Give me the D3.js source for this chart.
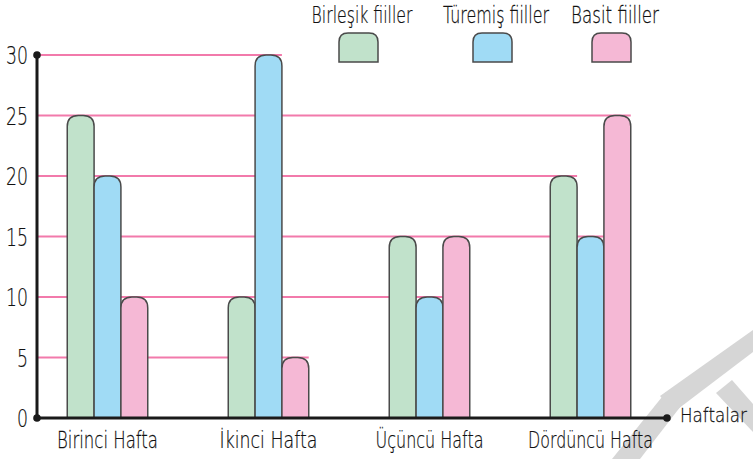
<!DOCTYPE html>
<html>
<head>
<meta charset="utf-8">
<title>Haftalara göre fiiller</title>
<script src="https://cdn.jsdelivr.net/npm/d3@7"></script>
<style>
  body { margin: 0; background: #fff; }
  svg text { font-family: "DejaVu Sans", sans-serif; font-weight: 200; fill: #111; stroke: #111; stroke-width: 0.25; }
</style>
</head>
<body>
<svg id="chart" width="753" height="459"></svg>
<script>
// data
var categories = ["Birinci Hafta", "İkinci Hafta", "Üçüncü Hafta", "Dördüncü Hafta"];
var seriesNames = ["Birleşik fiiller", "Türemiş fiiller", "Basit fiiller"];
var birlesik = [25, 10, 15, 20];
var turemis = [20, 30, 10, 15];
var basit = [10, 5, 15, 25];
var yTicks = [0, 5, 10, 15, 20, 25, 30];

var colors = ["#c1e2cb", "#a0dbf5", "#f5b8d5"];
var values = [birlesik, turemis, basit];

// measured widths of the text in the picture
var catWidths = [101, 98, 108, 125];
var legendWidths = [101, 106, 88];
var legendCenters = [362, 496, 615];

var svg = d3.select("#chart");

var x0 = d3.scaleBand().domain(categories).range([27, 671]).paddingInner(0.5).paddingOuter(0.25);
var x1 = d3.scaleBand().domain(seriesNames).range([0, x0.bandwidth()]);
var y = d3.scaleLinear().domain([0, 30]).range([418, 55]);

// path with rounded top corners
function roundTop(x, yTop, w, h, r) {
  r = Math.min(r, w / 2, h);
  return "M" + x + "," + (yTop + h) +
    "V" + (yTop + r) +
    "Q" + x + "," + yTop + " " + (x + r) + "," + yTop +
    "H" + (x + w - r) +
    "Q" + (x + w) + "," + yTop + " " + (x + w) + "," + (yTop + r) +
    "V" + (yTop + h) + "Z";
}

// the font in the picture is narrow, so squeeze each text to its width
function narrowText(sel, x, yy, width, anchor) {
  var natural = sel.node().getComputedTextLength();
  var k = width / natural;
  sel.attr("x", 0).attr("y", 0)
    .attr("text-anchor", anchor)
    .attr("transform", "translate(" + x + "," + yy + ") scale(" + k + ",1)");
}

// watermark in the lower right corner
var wm = svg.append("g").attr("fill", "#d6d6d6");
[
  [[612, 459], [640, 459], [684, 402], [666, 392]],
  [[660, 396], [753, 330], [753, 352], [674, 412]],
  [[716, 393], [732, 380], [753, 404], [753, 432]]
].forEach(function (p) {
  wm.append("polygon").attr("points", p.map(function (d) { return d.join(","); }).join(" "));
});

// grid lines: each runs to the last bar that reaches that value
var bars = [];
categories.forEach(function (c, i) {
  seriesNames.forEach(function (s, j) {
    bars.push({ cat: c, series: s, j: j, value: values[j][i] });
  });
});

yTicks.filter(function (t) { return t > 0; }).forEach(function (t) {
  var ends = bars.filter(function (b) { return b.value === t; })
    .map(function (b) { return x0(b.cat) + x1(b.series) + x1.bandwidth(); });
  svg.append("line")
    .attr("x1", 37).attr("x2", d3.max(ends))
    .attr("y1", y(t)).attr("y2", y(t))
    .attr("stroke", "#f27aab").attr("stroke-width", 2);
});

// bars
svg.append("g").selectAll("path")
  .data(bars)
  .enter()
  .append("path")
  .attr("d", function (b) {
    return roundTop(x0(b.cat) + x1(b.series), y(b.value), x1.bandwidth(), y(0) - y(b.value), 11);
  })
  .attr("fill", function (b) { return colors[b.j]; })
  .attr("stroke", "#4a4a4a")
  .attr("stroke-width", 1.5);

// axes
svg.append("line").attr("x1", 37).attr("x2", 37).attr("y1", y(30)).attr("y2", y(0))
  .attr("stroke", "#1a1a1a").attr("stroke-width", 3);
svg.append("line").attr("x1", 37).attr("x2", 667).attr("y1", y(0)).attr("y2", y(0))
  .attr("stroke", "#1a1a1a").attr("stroke-width", 3);
[[37, y(30)], [37, y(0)], [667, y(0)]].forEach(function (p) {
  svg.append("circle").attr("cx", p[0]).attr("cy", p[1]).attr("r", 3.8).attr("fill", "#1a1a1a");
});

// y tick labels
yTicks.forEach(function (d) {
  var t = svg.append("text")
    .attr("font-size", 25)
    .attr("dy", "0.36em")
    .text(d);
  narrowText(t, 28, y(d), String(d).length > 1 ? 22 : 11, "end");
});

// category labels
categories.forEach(function (c, i) {
  var t = svg.append("text")
    .attr("font-size", 23)
    .text(c);
  narrowText(t, x0(c) + x0.bandwidth() / 2, 448, catWidths[i], "middle");
});

narrowText(svg.append("text").attr("font-size", 20).text("Haftalar"), 680, 422, 67, "start");

// legend
seriesNames.forEach(function (s, i) {
  var t = svg.append("text")
    .attr("font-size", 23)
    .text(s);
  narrowText(t, legendCenters[i], 23, legendWidths[i], "middle");
  svg.append("path")
    .attr("d", roundTop(legendCenters[i] - 23, 33, 39, 29, 9))
    .attr("fill", colors[i])
    .attr("stroke", "#4a4a4a")
    .attr("stroke-width", 1.5);
});
</script>
</body>
</html>
